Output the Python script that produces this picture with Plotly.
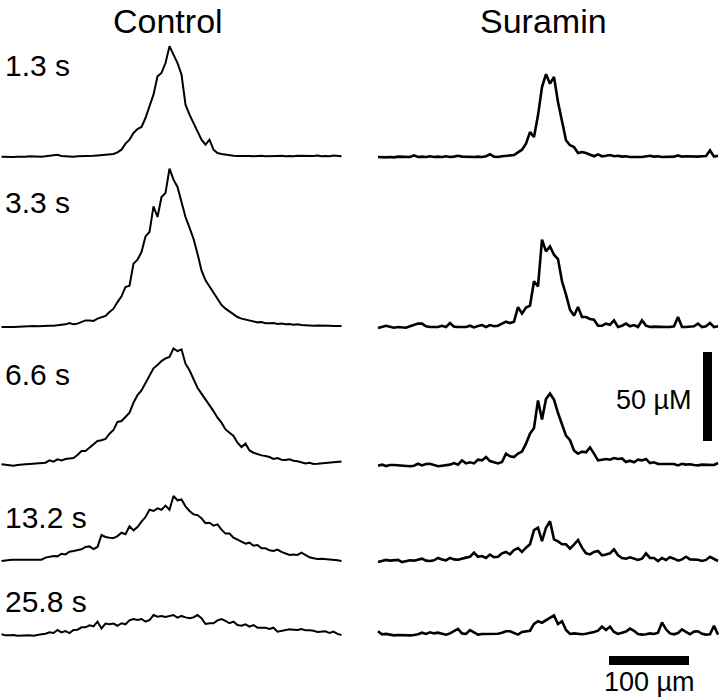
import plotly.graph_objects as go

# line-scan profiles: distance along the scan (um) vs concentration (uM)
DISTANCE_UM = [5 * i for i in range(86)]

TIME_LABELS = ["1.3 s", "3.3 s", "6.6 s", "13.2 s", "25.8 s"]
COLUMN_TITLES = ["Control", "Suramin"]

CONTROL_1_3 = [
    0.2, 0.0, 0.2, 0.0, 0.2, 0.0, 0.2, 0.4, 0.2, 0.4,
    0.2, 0.4, 0.6, 0.7, 1.3, 0.6, 0.4, 0.4, 0.2, 0.4,
    0.4, 0.6, 0.4, 0.7, 0.9, 1.1, 0.9, 1.3, 1.7, 2.6,
    4.1, 7.5, 9.7, 13.5, 15.7, 16.9, 21.9, 28.5, 35.0, 45.3,
    47.2, 52.8, 62.2, 57.5, 52.8, 46.3, 29.4, 23.8, 19.1, 14.4,
    9.7, 6.9, 9.7, 4.1, 2.2, 1.7, 1.3, 1.1, 0.7, 0.6,
    0.7, 0.9, 0.6, 0.4, 0.6, 0.7, 0.4, 0.6, 0.4, 0.6,
    0.7, 0.4, 0.6, 0.4, 0.7, 0.6, 0.4, 0.7, 0.6, 0.9,
    0.4, 0.6, 0.4, 0.9, 0.6, 0.4,
]
CONTROL_3_3 = [
    0.0, -0.2, 0.0, 0.0, 0.2, 0.0, 0.4, 0.4, 0.6, 0.4,
    0.6, 0.6, 0.7, 0.7, 0.9, 1.1, 1.5, 2.2, 1.5, 1.9,
    2.8, 3.7, 3.7, 3.4, 4.7, 5.6, 6.2, 8.4, 10.3, 14.0,
    17.2, 22.5, 23.2, 35.6, 37.8, 42.1, 50.9, 53.4, 67.8, 61.8,
    73.0, 75.3, 89.0, 82.8, 78.7, 70.2, 61.8, 55.8, 49.6, 41.2,
    31.8, 26.2, 22.8, 19.1, 15.4, 12.4, 10.3, 8.6, 7.1, 5.6,
    4.7, 4.1, 3.4, 2.8, 2.6, 2.8, 2.1, 2.1, 2.2, 1.7,
    1.9, 1.5, 1.7, 1.3, 1.5, 1.1, 0.9, 1.1, 0.7, 0.9,
    0.7, 0.6, 0.7, 0.6, 0.7, 0.6,
]
CONTROL_6_6 = [
    0.4, 0.0, -0.2, -0.4, 0.0, 0.0, 0.4, 0.6, 0.7, 0.9,
    1.3, 1.3, 2.6, 1.9, 3.2, 2.6, 3.4, 3.6, 3.9, 5.6,
    7.9, 7.9, 9.7, 11.6, 13.5, 13.9, 14.6, 17.6, 19.7, 24.2,
    24.7, 27.0, 29.4, 35.0, 39.3, 41.9, 46.3, 50.6, 54.3, 56.2,
    58.4, 59.9, 60.7, 65.5, 64.0, 65.0, 56.9, 53.2, 48.7, 43.4,
    40.1, 36.9, 34.1, 30.3, 26.6, 23.8, 20.0, 18.2, 16.3, 12.5,
    10.1, 12.0, 8.2, 6.9, 6.0, 5.4, 5.1, 4.5, 3.4, 3.9,
    3.0, 2.8, 3.2, 2.4, 2.1, 1.5, 0.9, 1.3, 0.6, 0.7,
    0.9, 0.9, 1.3, 1.1, 1.3, 1.9,
]
CONTROL_13_2 = [
    0.0, 0.4, 0.6, 0.7, 0.7, 0.7, 0.9, 0.9, 1.1, 0.7,
    0.7, 1.9, 2.4, 2.8, 2.6, 4.1, 3.7, 5.2, 5.6, 6.0,
    6.6, 7.9, 8.2, 6.7, 7.9, 14.6, 13.5, 13.1, 12.9, 14.0,
    15.9, 15.0, 19.5, 17.2, 19.1, 22.1, 24.7, 28.8, 28.1, 29.6,
    28.8, 31.1, 28.8, 36.5, 34.1, 34.6, 30.7, 28.1, 26.2, 25.8,
    24.0, 21.3, 21.5, 19.9, 20.6, 17.6, 15.4, 15.4, 13.1, 12.0,
    11.0, 9.7, 10.3, 8.6, 9.0, 7.1, 7.1, 6.0, 5.6, 6.4,
    5.1, 4.1, 3.4, 3.7, 3.4, 4.7, 3.6, 2.1, 1.5, 1.1,
    1.3, 1.1, 0.7, 0.9, 0.4, 0.0,
]
CONTROL_25_8 = [
    0.4, -0.2, -0.2, 0.0, -0.4, -0.2, -0.2, -0.2, -0.4, 0.2,
    0.4, 0.7, 1.5, 1.1, 2.8, 1.5, 2.2, 1.1, 2.8, 3.0,
    4.3, 4.3, 5.4, 4.9, 7.5, 3.7, 6.4, 6.0, 6.4, 5.2,
    6.6, 6.0, 8.2, 9.0, 8.4, 9.0, 7.5, 8.4, 11.2, 10.3,
    10.7, 10.1, 10.5, 11.2, 9.7, 10.7, 9.9, 9.4, 9.9, 11.2,
    9.4, 6.2, 6.6, 6.6, 8.2, 9.0, 7.9, 6.6, 7.5, 5.6,
    5.2, 6.0, 4.7, 5.6, 4.1, 4.1, 4.1, 3.4, 4.1, 1.9,
    2.4, 2.8, 3.2, 3.0, 2.8, 3.4, 2.6, 2.6, 2.4, 1.7,
    1.7, 2.1, 1.1, 1.9, 0.6, 0.0,
]

SURAMIN_1_3 = [
    0.0, -0.2, -0.2, 0.0, -0.2, 0.2, 0.0, 0.2, 0.0, 0.9,
    0.0, 0.2, 0.0, 0.4, 0.0, 0.2, 0.0, 0.4, 0.0, 0.2,
    0.7, 0.2, 0.0, 0.2, 0.0, 0.2, 0.0, 0.4, 1.5, 0.2,
    0.0, 0.4, 0.6, 0.7, 1.1, 2.6, 4.1, 7.5, 14.0, 11.2,
    23.4, 39.3, 46.5, 41.2, 45.0, 30.9, 20.6, 9.4, 6.6, 5.6,
    2.2, 2.8, 2.2, 1.5, 0.4, 1.5, 0.4, 0.7, 1.1, 0.4,
    0.7, 0.2, 0.4, 0.0, 0.2, 0.0, 0.0, 0.2, 0.7, 0.2,
    0.4, 0.0, 0.2, 0.4, 0.2, 0.9, 0.2, 0.4, 0.2, 0.4,
    0.2, 0.4, 0.6, 3.7, 0.2, 0.7,
]
SURAMIN_3_3 = [
    -0.6, 0.0, 0.7, 0.2, -0.4, 0.0, 0.0, -0.4, 0.4, 1.1,
    1.9, 1.9, 0.4, 0.0, 0.0, 0.0, 0.7, 0.0, 2.2, 0.2,
    0.0, 0.0, 0.0, 0.7, -0.2, 0.6, 1.1, 0.0, 1.1, 0.4,
    0.7, 1.9, 3.0, 2.2, 3.0, 11.2, 7.5, 10.9, 12.0, 25.7,
    22.8, 49.1, 42.5, 45.3, 40.6, 38.2, 25.7, 18.2, 9.7, 6.4,
    11.2, 5.6, 5.6, 4.5, 4.1, 0.7, 0.7, 1.9, 1.3, 3.7,
    0.0, 0.7, 1.9, 0.4, 1.1, 0.0, 3.7, 0.7, 0.0, 0.2,
    0.0, 0.0, 0.0, 0.0, 0.4, 5.6, 0.0, 0.0, 0.0, 0.4,
    1.9, 0.0, 0.4, 2.2, 0.0, 0.4,
]
SURAMIN_6_6 = [
    -0.4, 0.2, -0.6, 0.0, 0.0, -0.2, 0.0, -0.4, -0.7, -0.4,
    0.7, -0.2, 0.6, 0.7, 0.0, -0.7, -0.4, 0.0, 0.2, 1.1,
    0.2, 2.6, 0.9, 1.5, 0.9, 3.0, 2.6, 4.5, 2.2, 1.5,
    0.9, 1.7, 6.4, 4.9, 4.5, 6.4, 7.5, 12.0, 17.6, 20.8,
    36.3, 25.5, 37.1, 40.1, 36.7, 29.2, 22.7, 16.5, 13.9, 8.2,
    6.4, 7.5, 7.1, 9.9, 6.4, 2.6, 3.0, 3.4, 3.0, 3.9,
    3.4, 3.7, 1.7, 2.4, 1.5, 3.0, 2.6, 3.4, 1.1, 1.5,
    0.6, 0.6, 0.4, 0.2, 0.6, -0.2, 0.7, 0.2, 0.4, 0.0,
    -0.2, 0.2, 0.2, -0.2, 0.0, 1.1,
]
SURAMIN_13_2 = [
    -0.6, -0.2, 0.6, 0.2, 0.4, 0.6, -0.6, -0.2, 0.4, 0.2,
    0.6, 1.3, 0.2, 0.0, 0.4, 1.7, 0.9, 0.4, 1.7, 0.9,
    0.7, 1.1, 1.9, 2.4, 4.7, 2.4, 2.8, 1.7, 3.6, 2.1,
    2.4, 4.3, 5.1, 3.7, 6.2, 7.3, 5.1, 7.5, 9.4, 17.4,
    18.7, 11.2, 18.7, 22.3, 12.2, 11.0, 9.4, 9.4, 6.9, 9.2,
    11.8, 7.5, 4.3, 3.7, 5.1, 5.6, 3.2, 3.6, 4.3, 6.6,
    3.2, 1.7, 1.3, 2.1, 1.5, 0.6, 1.3, 4.3, 1.7, 1.7,
    0.0, 1.7, 0.6, 2.1, 1.3, 0.2, 0.9, 2.4, 0.9, 0.9,
    0.7, 0.0, 0.6, 2.4, 1.3, 0.0,
]
SURAMIN_25_8 = [
    2.1, 0.4, 0.6, 0.0, -0.2, 0.0, -0.2, 0.0, -0.2, 0.0,
    0.4, 1.3, 0.6, 1.5, 0.9, 1.3, 0.6, 0.2, 0.9, 2.1,
    3.4, 0.9, 0.6, 2.8, 1.3, 0.2, 0.6, 0.6, 0.6, 0.4,
    0.7, 1.3, 2.1, 2.1, 1.3, 0.2, 1.7, 2.2, 2.4, 6.2,
    7.7, 6.9, 8.4, 9.6, 11.0, 6.2, 7.7, 2.8, 0.6, 0.9,
    0.6, 0.4, 0.7, 1.1, 1.7, 2.4, 4.7, 2.8, 4.7, 1.7,
    0.6, 1.3, 1.9, 3.6, 2.4, 0.6, 0.2, 0.4, 0.9, 0.6,
    1.3, 7.1, 3.2, 0.9, 0.4, 1.1, 3.2, 1.7, 0.4, 1.9,
    2.1, 0.7, 0.2, 0.4, 5.2, 0.2,
]

CONTROL = [CONTROL_1_3, CONTROL_3_3, CONTROL_6_6, CONTROL_13_2, CONTROL_25_8]
SURAMIN = [SURAMIN_1_3, SURAMIN_3_3, SURAMIN_6_6, SURAMIN_13_2, SURAMIN_25_8]

SCALE_BAR_UM = 100
SCALE_BAR_UMOL = 50

# page geometry (pixels)
W, H = 720, 698
PX_PER_UM = 0.8
PX_PER_UMOL = 1.78
BASELINE_PX = [157, 327, 465, 561, 635]
ROW_SPAN_PX = [(30, 190), (150, 345), (335, 490), (480, 580), (590, 680)]
COL_ORIGIN_PX = [1.5, 378]
COL_SPAN_PX = [(0, 345), (372, 720)]
LINE_WIDTH = [2.0, 2.6]


def ax_names(k):
    return ("x" if k == 1 else f"x{k}"), ("y" if k == 1 else f"y{k}")


fig = go.Figure()
axes = {}
for r in range(5):
    for c, column in enumerate([CONTROL, SURAMIN]):
        k = r * 2 + c + 1
        xn, yn = ax_names(k)
        left, right = COL_SPAN_PX[c]
        top, bottom = ROW_SPAN_PX[r]
        ox, base = COL_ORIGIN_PX[c], BASELINE_PX[r]
        axes["xaxis" + xn[1:]] = dict(
            domain=[left / W, right / W],
            range=[(left - ox) / PX_PER_UM, (right - ox) / PX_PER_UM],
            visible=False, fixedrange=True, anchor=yn,
        )
        axes["yaxis" + yn[1:]] = dict(
            domain=[1 - bottom / H, 1 - top / H],
            range=[(base - bottom) / PX_PER_UMOL, (base - top) / PX_PER_UMOL],
            visible=False, fixedrange=True, anchor=xn,
        )
        fig.add_trace(go.Scatter(
            x=DISTANCE_UM, y=column[r], xaxis=xn, yaxis=yn,
            mode="lines", line=dict(color="black", width=LINE_WIDTH[c]),
            hoverinfo="skip", showlegend=False,
        ))

# scale bars drawn in data units of the Suramin panels
bar_x0 = (703 - COL_ORIGIN_PX[1]) / PX_PER_UM
bar_y0 = (BASELINE_PX[2] - 441) / PX_PER_UMOL
hbar_x0 = (609 - COL_ORIGIN_PX[1]) / PX_PER_UM
hbar_yc = (BASELINE_PX[4] - 660.5) / PX_PER_UMOL
shapes = [
    dict(type="rect", xref="x6", yref="y6", x0=bar_x0, x1=bar_x0 + 9 / PX_PER_UM,
         y0=bar_y0, y1=bar_y0 + SCALE_BAR_UMOL, fillcolor="black", line_width=0),
    dict(type="rect", xref="x10", yref="y10", x0=hbar_x0, x1=hbar_x0 + SCALE_BAR_UM,
         y0=hbar_yc - 4.5 / PX_PER_UMOL, y1=hbar_yc + 4.5 / PX_PER_UMOL,
         fillcolor="black", line_width=0),
]

FONT = "Arial, Liberation Sans, Helvetica, sans-serif"
annotations = []
for title, cx in zip(COLUMN_TITLES, [168, 543]):
    annotations.append(dict(text=title, x=cx / W, y=1 - 21 / H, xref="paper", yref="paper",
                            xanchor="center", yanchor="middle", showarrow=False,
                            font=dict(family=FONT, size=34, color="black")))
for label, cy in zip(TIME_LABELS, [65, 203, 374, 517, 601]):
    annotations.append(dict(text=label, x=3 / W, y=1 - cy / H, xref="paper", yref="paper",
                            xanchor="left", yanchor="middle", showarrow=False,
                            font=dict(family=FONT, size=30, color="black")))
annotations.append(dict(text=f"{SCALE_BAR_UMOL} \u00b5M", x=694 / W, y=1 - 400 / H,
                        xref="paper", yref="paper", xanchor="right", yanchor="middle",
                        showarrow=False, font=dict(family=FONT, size=27, color="black")))
annotations.append(dict(text=f"{SCALE_BAR_UM} \u00b5m", x=649 / W, y=1 - 682 / H,
                        xref="paper", yref="paper", xanchor="center", yanchor="middle",
                        showarrow=False, font=dict(family=FONT, size=27, color="black")))

fig.update_layout(
    width=W, height=H,
    margin=dict(l=0, r=0, t=0, b=0),
    paper_bgcolor="white", plot_bgcolor="rgba(0,0,0,0)",
    showlegend=False,
    shapes=shapes, annotations=annotations,
    **axes,
)

# drop the browser's default body margin so the 720x698 figure fills the window
fig.write_html(
    "out.html",
    config={"displayModeBar": False},
    post_script="document.body.style.margin='0';document.body.style.overflow='hidden';",
)
